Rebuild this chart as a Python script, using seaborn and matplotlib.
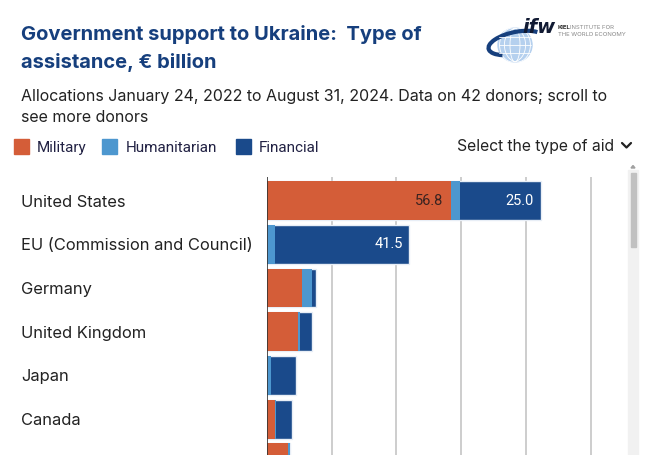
import numpy as np
import pandas as pd
import matplotlib
matplotlib.use("Agg")
import matplotlib.pyplot as plt
import matplotlib.patches as mpatches
import seaborn as sns

# --------------------------
# Dados
# --------------------------
countries = ["United States", "EU (Commission and Council)", "Germany",
             "United Kingdom", "Japan", "Canada", "Denmark"]
military = [56.8, 0.0, 10.8, 9.6, 0.0, 2.6, 6.6]
humanitarian = [2.8, 2.5, 3.0, 0.7, 1.2, 0.3, 0.4]
financial = [25.0, 41.5, 1.4, 3.5, 7.8, 4.9, 0.1]

aid_types = ["Military", "Humanitarian", "Financial"]
colors = {"Military": "#d45d38", "Humanitarian": "#4d97cf", "Financial": "#1a4a8b"}

df = pd.DataFrame({"country": countries, "Military": military,
                   "Humanitarian": humanitarian, "Financial": financial})
df["mil_hum"] = df["Military"] + df["Humanitarian"]
df["total"] = df["mil_hum"] + df["Financial"]

# --------------------------
# Figura
# --------------------------
sns.set_theme(style="white")
plt.rcParams["font.family"] = ["Inter", "DejaVu Sans"]

W, H = 650, 455
fig = plt.figure(figsize=(W / 100, H / 100), dpi=100)

x0, x1, ytop = 267, 623, 177
ax = fig.add_axes([x0 / W, 0, (x1 - x0) / W, (H - ytop) / H])

bw = 0.89
# barras empilhadas: total atrás, depois militar+humanitária, depois militar
sns.barplot(data=df, y="country", x="total", order=countries, orient="h",
            color=colors["Financial"], width=bw, edgecolor="#e8eef6",
            linewidth=1.0, saturation=1, ax=ax)
sns.barplot(data=df, y="country", x="mil_hum", order=countries, orient="h",
            color=colors["Humanitarian"], width=bw, linewidth=0,
            saturation=1, ax=ax)
sns.barplot(data=df, y="country", x="Military", order=countries, orient="h",
            color=colors["Military"], width=bw, linewidth=0,
            saturation=1, ax=ax)

ax.set_xlabel("")
ax.set_ylabel("")
ax.set_xticks([])
for v in [20, 40, 60, 80, 100]:
    ax.axvline(v, color="#c9c9c9", linewidth=1.3, zorder=0)
ax.axvline(0, color="#333333", linewidth=1.2, zorder=5)
for s in ax.spines.values():
    s.set_visible(False)

# o último doador fica escondido pela rolagem
shown = countries[:-1] + [""]
ax.set_yticks(range(len(countries)))
ax.set_yticklabels(shown, ha="left", fontsize=11.9, color="#222222")
ax.tick_params(axis="y", length=0, pad=(x0 - 21) * 72 / 100)
# limites depois dos ticks (set_yticks expande a vista)
ax.set_xlim(0, 110)
ax.set_ylim(5.82, -0.54)

# rótulos de valor
for i, row in df.iterrows():
    if row["Military"] >= 20:
        ax.text(row["Military"] - 2.3, i, f"{row['Military']:.1f}", ha="right",
                va="center", fontsize=10.5, color="#3a2320", family="Roboto")
    if row["Financial"] >= 20:
        ax.text(row["total"] - 2.1, i, f"{row['Financial']:.1f}", ha="right",
                va="center", fontsize=10.5, color="white", family="Roboto")

# --------------------------
# Camada em pixels: títulos, legenda, logo, barra de rolagem
# --------------------------
ov = fig.add_axes([0, 0, 1, 1], facecolor="none")
ov.set_xlim(0, W)
ov.set_ylim(H, 0)
ov.axis("off")

title_c = "#163f7d"
ov.text(21, 39.5, "Government support to Ukraine:  Type of", fontsize=14.5,
        weight="bold", color=title_c, va="baseline")
ov.text(21, 67.5, "assistance, € billion", fontsize=14.5,
        weight="bold", color=title_c, va="baseline")
ov.text(21, 100.7, "Allocations January 24, 2022 to August 31, 2024. Data on 42 donors; scroll to",
        fontsize=11.5, color="#222222", va="baseline")
ov.text(21, 121.7, "see more donors", fontsize=11.5, color="#222222", va="baseline")

legend_x = [(13.5, 36.7), (101.7, 126), (235.7, 258.3)]
for name, (sx, tx) in zip(aid_types, legend_x):
    ov.add_patch(mpatches.Rectangle((sx, 138.5), 15, 15, color=colors[name]))
    ov.text(tx, 152.3, name, fontsize=11, color="#222244", va="baseline",
            family="Roboto")

ov.text(614.5, 151, "Select the type of aid", fontsize=11.3, color="#222222",
        ha="right", va="baseline")
ov.plot([622, 626.5, 631], [143, 147.5, 143], color="#222222", linewidth=1.6)

# barra de rolagem
ov.add_patch(mpatches.Rectangle((628, 170), 10, 285, color="#f1f1f1"))
ov.add_patch(mpatches.Rectangle((630.5, 173), 5.5, 74, color="#c1c1c1"))
ov.add_patch(mpatches.Polygon([[631, 168], [635, 168], [633, 165.5]], color="#a0a0a0"))

# logo IfW (aproximado)
ov.add_patch(mpatches.Circle((515, 45), 17, color="#b5d0ee"))
for dx in [-8, 0, 8]:
    ov.add_patch(mpatches.Ellipse((515 + dx * 0.3, 45), 10 + abs(dx) * 2, 34,
                                  fill=False, edgecolor="white", linewidth=0.6))
for dy in [-8, 0, 8]:
    ov.plot([499, 531], [45 + dy, 45 + dy], color="white", linewidth=0.6)
ov.add_patch(mpatches.Arc((516, 43), 56, 22, angle=-12, theta1=150, theta2=345,
                          color="#163f7d", linewidth=3))
ov.text(522, 33, "ifw", fontsize=14, weight="bold", style="italic",
        color="#111a33", va="baseline", family="DejaVu Sans")
ov.text(558, 29, "KIEL", fontsize=4.3, weight="bold", color="#333333", va="baseline")
ov.text(570, 29, "INSTITUTE FOR", fontsize=4.3, color="#8a8a8a", va="baseline")
ov.text(558, 36, "THE WORLD ECONOMY", fontsize=4.3, color="#8a8a8a", va="baseline")

fig.savefig("out.png", dpi=100)
